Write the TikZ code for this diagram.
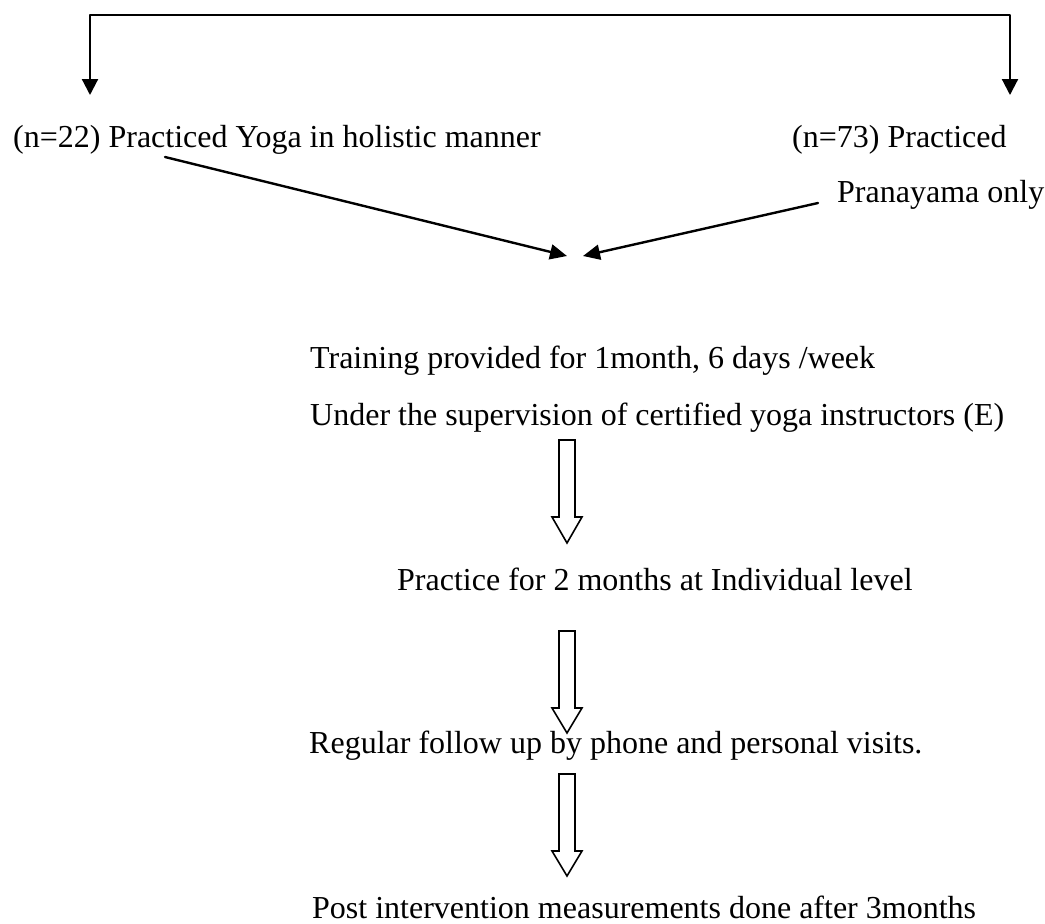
\documentclass[tikz,border=0pt]{standalone}
\usepackage{fontspec}
\setmainfont{Liberation Serif}
\usetikzlibrary{arrows.meta}
\tikzset{
  lbl/.style={anchor=base west,inner sep=0pt,font=\fontsize{32}{38}\selectfont},
  link/.style={line width=2.4pt,-{Triangle[length=17pt,width=15pt]}},
  split/.style={line width=2.2pt,{Triangle[length=16pt,width=16pt]}-{Triangle[length=16pt,width=16pt]}},
  hollow/.style={line width=1.6pt,line join=miter,fill=white}
}
\begin{document}
\begin{tikzpicture}[x=1pt,y=-1pt,line cap=round,line join=round]
        \useasboundingbox (0,0) rectangle (1045,924);

        \node[lbl] (holistic) at (13,147) {(n=22) Practiced Yoga in holistic manner};
        \node[lbl] (pranaA) at (792,147) {(n=73) Practiced};
        \node[lbl] (pranaB) at (837,202) {Pranayama only};
        \node[lbl] (train) at (310,368) {Training provided for 1month, 6 days /week};
        \node[lbl] (super) at (310,425) {Under the supervision of certified yoga instructors (E)};
        \node[lbl] (practice) at (397,590) {Practice for 2 months at Individual level};
        \node[lbl] (follow) at (309,753) {Regular follow up by phone and personal visits.};
        \node[lbl] (post) at (312,918) {Post intervention measurements done after 3months};

        \coordinate (toL) at (90,95);
        \coordinate (toR) at (1010,95);
        \coordinate (fromL) at (165,157);
        \coordinate (fromR) at (818,203);
        \coordinate (meetL) at (567,256);
        \coordinate (meetR) at (583,256);

        \draw[split] (toL) -- (90,15) -- (1010,15) -- (toR);
        \draw[link] (fromL) -- (meetL);
        \draw[link] (fromR) -- (meetR);

        \draw[hollow] (559,440) -- (575,440) -- (575,517) -- (582,517) -- (567,543) -- (552,517) -- (559,517) -- cycle;
        \draw[hollow] (559,631) -- (575,631) -- (575,708) -- (582,708) -- (567,733) -- (552,708) -- (559,708) -- cycle;
        \draw[hollow] (559,774) -- (575,774) -- (575,851) -- (582,851) -- (567,876) -- (552,851) -- (559,851) -- cycle;
      \end{tikzpicture}
\end{document}
